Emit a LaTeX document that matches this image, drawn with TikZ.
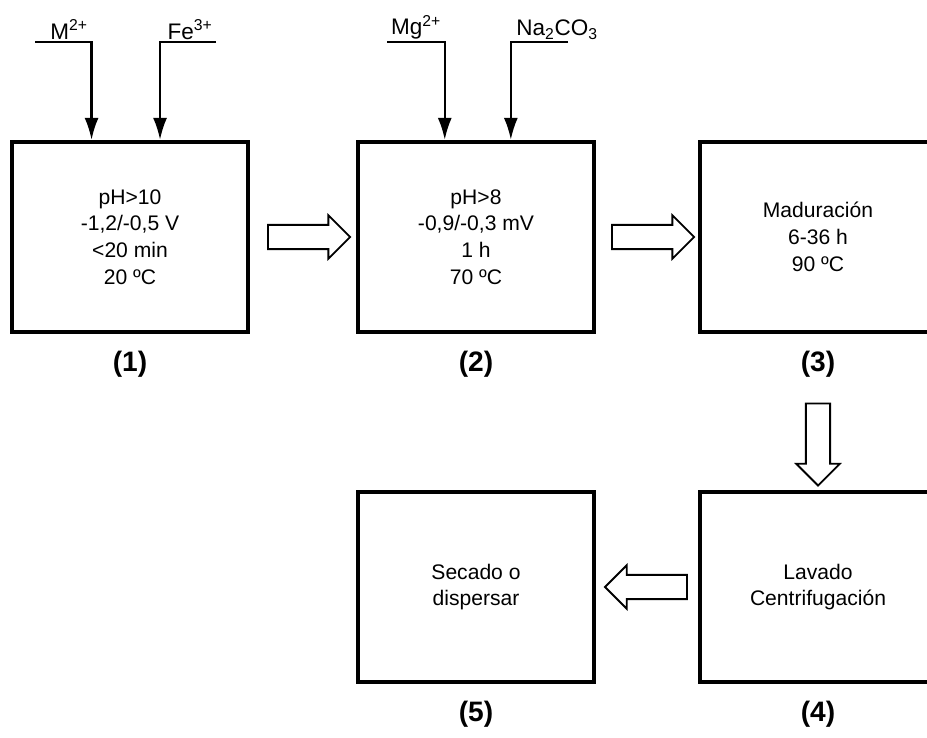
\documentclass[tikz,border=0pt]{standalone}
\usepackage{fontspec}
\setmainfont{Liberation Sans}
\usepackage{tikz}
\usetikzlibrary{positioning,arrows.meta,shapes.arrows,calc}

\begin{document}
\begin{tikzpicture}[x=0.025cm,y=-0.025cm,>=Latex,
  caja/.style={draw,line width=3pt,minimum width=5.9cm,minimum height=4.75cm,align=center,font=\fontsize{15}{19}\selectfont},
  num/.style={font=\fontsize{20}{24}\selectfont\bfseries},
  hueca/.style={single arrow,draw,line width=1.3pt,minimum height=2.05cm,minimum width=1.05cm,single arrow head extend=0.24cm,inner sep=0.28cm},
  entrada/.style={line width=1.6pt,-{Latex[length=0.55cm,width=0.35cm]}},
  ion/.style={font=\fontsize{16}{18}\selectfont,inner sep=1.5pt}]
\useasboundingbox (0,0) rectangle (927,737);
% etapas
\node[caja] (b1) at (130,237) {pH>10\\-1,2/-0,5 V\\<20 min\\20 ºC};
\node[caja] (b2) at (476,237) {pH>8\\-0,9/-0,3 mV\\1 h\\70 ºC};
\node[caja] (b3) at (818,237) {Maduración\\6-36 h\\90 ºC};
\node[caja] (b4) at (818,587) {Lavado\\Centrifugación};
\node[caja] (b5) at (476,587) {Secado o\\dispersar};
\node[num,below=0.3cm of b1] (n1) {(1)};
\node[num,below=0.3cm of b2] (n2) {(2)};
\node[num,below=0.3cm of b3] (n3) {(3)};
\node[num,below=0.3cm of b4] (n4) {(4)};
\node[num,below=0.3cm of b5] (n5) {(5)};
% reactivos
\coordinate (cm) at (35,42);  \coordinate (em) at ($(b1.north west)!0.34!(b1.north east)$);
\coordinate (cf) at (216,42); \coordinate (ef) at ($(b1.north west)!0.625!(b1.north east)$);
\coordinate (cg) at (387,42); \coordinate (eg) at ($(b2.north west)!0.37!(b2.north east)$);
\coordinate (cn) at (568,42); \coordinate (en) at ($(b2.north west)!0.645!(b2.north east)$);
\node[ion,above] at (69,42) (tm) {M\textsuperscript{2+}};
\node[ion,above] at (190,42) (tf) {Fe\textsuperscript{3+}};
\node[ion,above] at (416,42) (tg) {Mg\textsuperscript{2+}};
\node[ion,above] at (557,42) (tn) {Na\textsubscript{2}CO\textsubscript{3}};
\draw[entrada] (cm) -| (em);
\draw[entrada] (cf) -| (ef);
\draw[entrada] (cg) -| (eg);
\draw[entrada] (cn) -| (en);
% flechas entre etapas
\node[hueca] (f12) at ($(b1.east)!0.5!(b2.west)$) {};
\node[hueca] (f23) at ($(b2.east)!0.5!(b3.west)$) {};
\node[hueca,rotate=-90] (f34) at ($(b3.south)!0.67!(b4.north)$) {};
\node[hueca,rotate=180] (f45) at ($(b4.west)!0.45!(b5.east)$) {};
\end{tikzpicture}
\end{document}
